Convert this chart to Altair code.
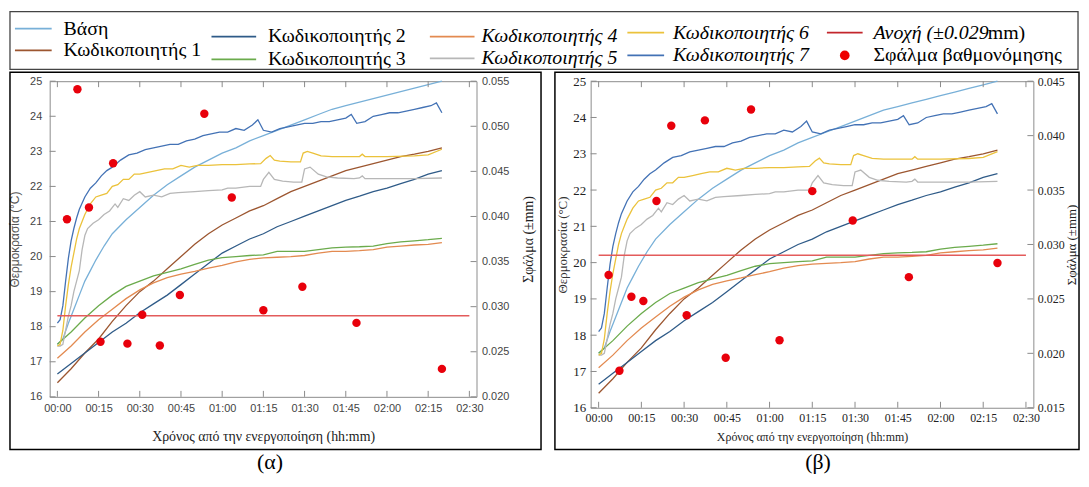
import altair as alt
import pandas as pd

SERIF = "Liberation Serif, DejaVu Serif, serif"
SANS = "Liberation Sans, Arial, sans-serif"

# ---------------- data ----------------
series_names = ["Βάση", "Κωδικοποιητής 1", "Κωδικοποιητής 2", "Κωδικοποιητής 3",
                "Κωδικοποιητής 4", "Κωδικοποιητής 5", "Κωδικοποιητής 6", "Κωδικοποιητής 7"]
series_colors = ["#78b0d8", "#9c5630", "#2f5b88", "#6bab4c",
                 "#e38a50", "#b7b7b7", "#ebc23b", "#4372b5"]

t_slow = [0, 5, 10, 15, 20, 25, 30, 35, 40, 45, 50, 55, 60, 65, 70,
          75, 80, 85, 90, 95, 100, 105, 110, 115, 120, 125, 130, 135, 140]
k1_T = [16.4, 16.8, 17.25, 17.65, 18.15, 18.6, 19.0, 19.3, 19.65, 20.0, 20.35, 20.65, 20.9, 21.1, 21.3,
        21.45, 21.65, 21.85, 22.0, 22.15, 22.3, 22.45, 22.55, 22.65, 22.75, 22.85, 22.92, 23.0, 23.1]
k2_T = [16.65, 16.95, 17.25, 17.55, 17.85, 18.1, 18.4, 18.65, 18.9, 19.2, 19.5, 19.8, 20.1, 20.3, 20.5,
        20.65, 20.85, 21.0, 21.15, 21.3, 21.45, 21.6, 21.72, 21.85, 21.95, 22.08, 22.2, 22.35, 22.45]
k3_T = [17.5, 17.85, 18.25, 18.6, 18.9, 19.15, 19.3, 19.45, 19.55, 19.65, 19.78, 19.9, 19.97, 20.0, 20.03,
        20.05, 20.15, 20.15, 20.15, 20.2, 20.25, 20.27, 20.28, 20.3, 20.37, 20.42, 20.45, 20.48, 20.52]
k4_T = [17.1, 17.45, 17.85, 18.2, 18.5, 18.8, 19.05, 19.25, 19.4, 19.5, 19.58, 19.67, 19.75, 19.85, 19.92,
        19.96, 19.98, 20.0, 20.03, 20.1, 20.15, 20.15, 20.17, 20.2, 20.27, 20.3, 20.33, 20.35, 20.4]

base_t = [0, 2, 4, 6, 8, 10, 12, 14, 17, 20, 25, 30, 35, 40, 45, 50, 55, 60, 65, 70,
          75, 80, 85, 90, 95, 100, 105, 110, 115, 120, 125, 130, 135, 140]
base_T = [17.5, 17.65, 18.1, 18.5, 18.9, 19.3, 19.6, 19.9, 20.3, 20.65, 21.05, 21.4, 21.75, 22.05, 22.3,
          22.55, 22.75, 22.95, 23.1, 23.3, 23.45, 23.6, 23.75, 23.9, 24.05, 24.2, 24.3, 24.4, 24.5,
          24.6, 24.7, 24.8, 24.9, 25.0]

k5_t = [0, 1, 2, 3, 4, 5, 6, 7, 8, 9, 10, 11, 13, 15, 17, 19, 21, 22, 24, 26, 28, 30, 32, 35, 38, 41,
        44, 50, 55, 60, 62, 65, 70, 74, 75, 77, 79, 82, 86, 89, 90, 92, 95, 98, 102, 108, 110, 111,
        112, 120, 130, 140]
k5_T = [17.45, 17.45, 17.5, 17.9, 18.3, 18.6, 19.0, 19.3, 19.6, 20.2, 20.6, 20.8, 20.95, 21.05, 21.2,
        21.3, 21.5, 21.4, 21.65, 21.6, 21.75, 21.85, 21.7, 21.75, 21.7, 21.8, 21.82, 21.85, 21.88, 21.9,
        21.95, 21.95, 22.0, 22.0, 22.2, 22.4, 22.2, 22.15, 22.12, 22.12, 22.5, 22.55, 22.35, 22.27,
        22.24, 22.22, 22.24, 22.3, 22.22, 22.22, 22.22, 22.24]

k6_t = [0, 1, 2, 3, 4, 5, 6, 7, 8, 9, 10, 12, 14, 16, 18, 20, 22, 24, 26, 28, 30, 33, 36, 39, 42, 45,
        48, 51, 55, 60, 65, 70, 74, 76, 77.5, 79, 81, 85, 88.5, 89.5, 91, 93, 96, 100, 105, 110, 111,
        112, 120, 130, 135, 140]
k6_T = [17.45, 17.5, 17.9, 18.6, 19.2, 19.7, 20.1, 20.5, 20.8, 21.0, 21.2, 21.5, 21.7, 21.75, 21.8,
        22.0, 22.05, 22.2, 22.2, 22.35, 22.35, 22.4, 22.45, 22.5, 22.5, 22.6, 22.55, 22.6, 22.6, 22.62,
        22.62, 22.64, 22.65, 22.8, 22.88, 22.75, 22.72, 22.7, 22.7, 22.95, 23.0, 22.95, 22.87, 22.85,
        22.85, 22.85, 22.92, 22.85, 22.85, 22.87, 22.9, 23.06]

k7_t = [0, 1, 2, 3, 4, 5, 6, 7, 8, 10, 12, 14, 16, 18, 20, 23, 26, 29, 32, 35, 38, 41, 44, 47, 50,
        53, 56, 59, 62, 65, 68, 71, 73, 75, 78, 81, 84, 87, 90, 93, 96, 99, 102, 105, 107, 109, 112,
        115, 118, 121, 124, 127, 130, 133, 136, 138, 140]
k7_T = [18.1, 18.2, 18.6, 19.3, 19.95, 20.45, 20.8, 21.1, 21.35, 21.7, 21.95, 22.1, 22.3, 22.45, 22.55,
        22.75, 22.9, 22.95, 23.05, 23.1, 23.15, 23.2, 23.2, 23.3, 23.35, 23.45, 23.5, 23.55, 23.55,
        23.65, 23.6, 23.75, 23.9, 23.6, 23.55, 23.65, 23.7, 23.75, 23.8, 23.8, 23.85, 23.85, 23.9,
        23.95, 24.05, 23.8, 23.85, 24.0, 24.05, 24.1, 24.1, 24.15, 24.2, 24.25, 24.3, 24.38, 24.1]

err_t = [3.5, 7.3, 11.5, 15.7, 20.3, 25.5, 30.9, 37.3, 44.6, 53.5, 63.5, 75.0, 89.2, 108.9, 140.0]
err_a = [0.0397, 0.0541, 0.0410, 0.0261, 0.0459, 0.0259, 0.0291, 0.0257, 0.0313, 0.0514,
         0.0421, 0.0296, 0.0322, 0.0282, 0.0231]
err_b = [0.0272, 0.0184, 0.0252, 0.0248, 0.0340, 0.0409, 0.0235, 0.0414, 0.0196, 0.0424,
         0.0212, 0.0349, 0.0322, 0.0270, 0.0283]
tolerance = 0.029

x_ticks = [0, 15, 30, 45, 60, 75, 90, 105, 120, 135, 150]
x_tick_labels = ["00:00", "00:15", "00:30", "00:45", "01:00", "01:15",
                 "01:30", "01:45", "02:00", "02:15", "02:30"]
T_ticks = [16, 17, 18, 19, 20, 21, 22, 23, 24, 25]
E_ticks_a = [0.020, 0.025, 0.030, 0.035, 0.040, 0.045, 0.050, 0.055]
E_ticks_b = [0.015, 0.020, 0.025, 0.030, 0.035, 0.040, 0.045]

legend_labels = ["Βάση", "Κωδικοποιητής 1", "Κωδικοποιητής 2", "Κωδικοποιητής 3",
                 "Κωδικοποιητής 4", "Κωδικοποιητής 5", "Κωδικοποιητής 6", "Κωδικοποιητής 7",
                 "Ανοχή (±0.029", "Σφάλμα βαθμονόμησης"]
legend_colors = series_colors + ["#c3262c", "#ee0000"]
legend_italic = [False, False, False, False, True, True, True, True, True, False]

# ---------------- tables ----------------
rows = []
for name, ts, vs in [(series_names[0], base_t, base_T),
                     (series_names[1], t_slow, k1_T), (series_names[2], t_slow, k2_T),
                     (series_names[3], t_slow, k3_T), (series_names[4], t_slow, k4_T),
                     (series_names[5], k5_t, k5_T), (series_names[6], k6_t, k6_T),
                     (series_names[7], k7_t, k7_T)]:
    for t, v in zip(ts, vs):
        rows.append({"series": name, "t": t, "T": v})
df_lines = pd.DataFrame(rows)
df_xt = pd.DataFrame({"t": x_ticks})
df_Tt = pd.DataFrame({"T": T_ticks})
df_tol = pd.DataFrame({"t": [x_ticks[0]], "t2": [x_ticks[-1]], "E": [tolerance]})
one = pd.DataFrame({"a": [0]})

x_label_expr = "[" + ",".join("'%s'" % s for s in x_tick_labels) + "][round(datum.value/15)]"
X_DOM = [-2.8, 152.6]
TICK_C = "#8a8a8a"
TL = 6

# ---------------- layout (page pixels) ----------------
PLOT_TOP = 78
A_LEFT, WA, HA = 48, 430, 318
B_LEFT, WB, HB = 593, 446, 329


def legend_layer(ox, oy, W, H):
    """Legend drawn in page coordinates through identity scales (ox, oy = plot origin)."""
    col_of = [0, 0, 1, 1, 2, 2, 3, 3, 4, 4]
    row_of = [0, 1, 0, 1, 0, 1, 0, 1, 0, 1]
    col_line_x0 = [13, 211, 431, 630, 831]
    col_line_x1 = [50, 256, 476, 667, 867]
    col_label_x = [62, 268, 483, 676, 878]
    col_row_y = [[25, 47], [33, 56], [33, 55], [29, 52], [29, 52]]
    lr = []
    for i, lab in enumerate(legend_labels):
        c, r = col_of[i], row_of[i]
        lr.append({"label": lab, "color": legend_colors[i], "italic": legend_italic[i],
                   "x0": col_line_x0[c] - ox, "x1": col_line_x1[c] - ox,
                   "lx": col_label_x[c] - ox,
                   "dx": (col_line_x0[c] + col_line_x1[c]) / 2 - ox,
                   "y": col_row_y[c][r] - oy, "sym": "dot" if i == 9 else "line"})
    lr.append({"label": "mm)", "color": "black", "italic": False, "x0": 0, "x1": 0,
               "lx": col_label_x[4] + 115 - ox, "dx": 0, "y": col_row_y[4][0] - oy, "sym": "none"})
    lr.append({"label": "", "color": "#444", "italic": False, "x0": 8 - ox, "x1": 1084 - ox,
               "lx": 0, "dx": 0, "y": 8 - oy, "y2": 66 - oy, "sym": "box"})
    d = pd.DataFrame(lr)
    LX = alt.Scale(domain=[0, W], nice=False, zero=False)
    LY = alt.Scale(domain=[0, H], nice=False, zero=False, reverse=True)
    b = alt.Chart(d)
    box = b.transform_filter("datum.sym == 'box'").mark_rect(
        filled=False, stroke="#444", strokeWidth=1.3).encode(
        x=alt.X("x0:Q", scale=LX, axis=None), x2="x1:Q",
        y=alt.Y("y:Q", scale=LY, axis=None), y2="y2:Q")
    ln = b.transform_filter("datum.sym == 'line'").mark_rule(strokeWidth=1.8).encode(
        x=alt.X("x0:Q", scale=LX, axis=None), x2="x1:Q", y=alt.Y("y:Q", scale=LY, axis=None),
        color=alt.Color("color:N", scale=None))
    dot = b.transform_filter("datum.sym == 'dot'").mark_circle(size=95, opacity=1).encode(
        x=alt.X("dx:Q", scale=LX, axis=None), y=alt.Y("y:Q", scale=LY, axis=None),
        color=alt.Color("color:N", scale=None))
    tn = b.transform_filter("!datum.italic && datum.sym != 'box'").mark_text(
        font=SERIF, fontSize=20, align="left", baseline="middle", color="black").encode(
        x=alt.X("lx:Q", scale=LX, axis=None), y=alt.Y("y:Q", scale=LY, axis=None), text="label:N")
    ti = b.transform_filter("datum.italic").mark_text(
        font=SERIF, fontSize=20, fontStyle="italic", align="left", baseline="middle",
        color="black").encode(
        x=alt.X("lx:Q", scale=LX, axis=None), y=alt.Y("y:Q", scale=LY, axis=None), text="label:N")
    return alt.layer(box, ln, dot, tn, ti)


def panel(errs, e_dom, e_ticks, W, H, st, frame, label, lab_xy, with_legend, ox):
    xscale = alt.Scale(domain=X_DOM, nice=False, zero=False)
    X = alt.X("t:Q", scale=xscale,
              axis=alt.Axis(values=x_ticks, labelExpr=x_label_expr, ticks=False, domain=False,
                            grid=False, labelFont=st["lf"], labelFontSize=st["lfs"],
                            labelColor=st["lc"], labelPadding=st["xlp"],
                            title="Χρόνος από την ενεργοποίηση (hh:mm)", titleFont=SERIF,
                            titleFontSize=st["xtfs"], titleFontWeight="normal", titleColor="#222",
                            titlePadding=st["xtp"]))
    X2 = alt.X("t:Q", scale=xscale, axis=None)
    YT = alt.Y("T:Q", scale=alt.Scale(domain=[16, 25], nice=False, zero=False),
               axis=alt.Axis(values=T_ticks, ticks=False, domain=False, grid=False,
                             labelFont=st["lf"], labelFontSize=st["ylfs"], labelColor=st["lc"],
                             labelPadding=st["ylp"], title="Θερμοκρασία (°C)",
                             titleFont=st["ytf"], titleFontSize=st["ytfs"],
                             titleFontWeight="normal", titleColor=st["ytc"],
                             titlePadding=st["ytp"]))
    YE = alt.Y("E:Q", scale=alt.Scale(domain=e_dom, nice=False, zero=False),
               axis=alt.Axis(orient="right", values=e_ticks, format=".3f", ticks=False,
                             domain=False, grid=False, labelFont=st["lf"],
                             labelFontSize=st["lfs"], labelColor=st["lc"],
                             labelPadding=st["elp"], title="Σφάλμα (±mm)", titleFont=SERIF,
                             titleFontSize=st["etfs"], titleFontWeight="normal", titleColor="#222",
                             titleAngle=270, titleBaseline="top",
                             titlePadding=st["etp"]))
    lines = alt.Chart(df_lines).mark_line(strokeWidth=1.3).encode(
        x=X, y=YT,
        color=alt.Color("series:N", scale=alt.Scale(domain=series_names, range=series_colors),
                        legend=None))
    xt_b = alt.Chart(df_xt).mark_rule(color=TICK_C).encode(x=X, y=alt.value(H), y2=alt.value(H - TL))
    xt_t = alt.Chart(df_xt).mark_rule(color=TICK_C).encode(x=X, y=alt.value(0), y2=alt.value(TL))
    yt_l = alt.Chart(df_Tt).mark_rule(color=TICK_C).encode(y=YT, x=alt.value(0), x2=alt.value(TL))
    g1 = alt.layer(lines, xt_b, xt_t, yt_l)

    df_err = pd.DataFrame({"t": err_t, "E": errs})
    df_Et = pd.DataFrame({"E": e_ticks})
    tol = alt.Chart(df_tol).mark_rule(color="#e35b5b", strokeWidth=1.5).encode(x=X2, x2="t2:Q", y=YE)
    pts = alt.Chart(df_err).mark_circle(size=72, color="#e8000b", opacity=1).encode(x=X2, y=YE)
    yt_r = alt.Chart(df_Et).mark_rule(color=TICK_C).encode(y=YE, x=alt.value(W - TL), x2=alt.value(W))
    g2 = alt.layer(tol, pts, yt_r)

    fr = alt.Chart(one).mark_rect(filled=False, stroke="black", strokeWidth=1.5).encode(
        x=alt.value(frame[0]), x2=alt.value(frame[1]), y=alt.value(frame[2]), y2=alt.value(frame[3]))
    lab = alt.Chart(one).mark_text(text=label, font=SERIF, fontSize=22, align="center",
                                   baseline="middle", color="black").encode(
        x=alt.value(lab_xy[0]), y=alt.value(lab_xy[1]))
    parts = [g1, g2, fr, lab]
    if with_legend:
        parts.append(legend_layer(ox, PLOT_TOP, W, H))
    return alt.layer(*parts).resolve_scale(x="independent", y="independent").properties(
        width=W, height=H)


st_a = dict(lf=SANS, lfs=11, ylfs=11, lc="#444", xlp=6, xtp=16, xtfs=14, ylp=8, ytf=SANS,
            ytfs=12, ytc="#555", ytp=8, elp=5, etp=13, etfs=14)
st_b = dict(lf=SERIF, lfs=12, ylfs=13, lc="#222", xlp=5, xtp=8, xtfs=12, ylp=5, ytf=SERIF,
            ytfs=13, ytc="#333", ytp=3, elp=4, etp=1, etfs=13)

# frames in page px: A 8..543, B 557..1085, y 69..449 ; labels at y 462
pa = panel(err_a, [0.020, 0.055], E_ticks_a, WA, HA, st_a,
           (8 - A_LEFT, 543 - A_LEFT, 69 - PLOT_TOP, 449 - PLOT_TOP), "(α)",
           (270 - A_LEFT, 462 - PLOT_TOP), True, A_LEFT)
pb = panel(err_b, [0.015, 0.045], E_ticks_b, WB, HB, st_b,
           (557 - B_LEFT, 1085 - B_LEFT, 69 - PLOT_TOP, 449 - PLOT_TOP), "(β)",
           (822 - B_LEFT, 462 - PLOT_TOP), False, B_LEFT)

chart = alt.hconcat(pa, pb, spacing=B_LEFT - A_LEFT - WA, bounds="flush", padding=0).configure_view(
    stroke="#8c8c8c", strokeWidth=1)

chart.save("out.html", embed_options={"renderer": "svg", "actions": False})
